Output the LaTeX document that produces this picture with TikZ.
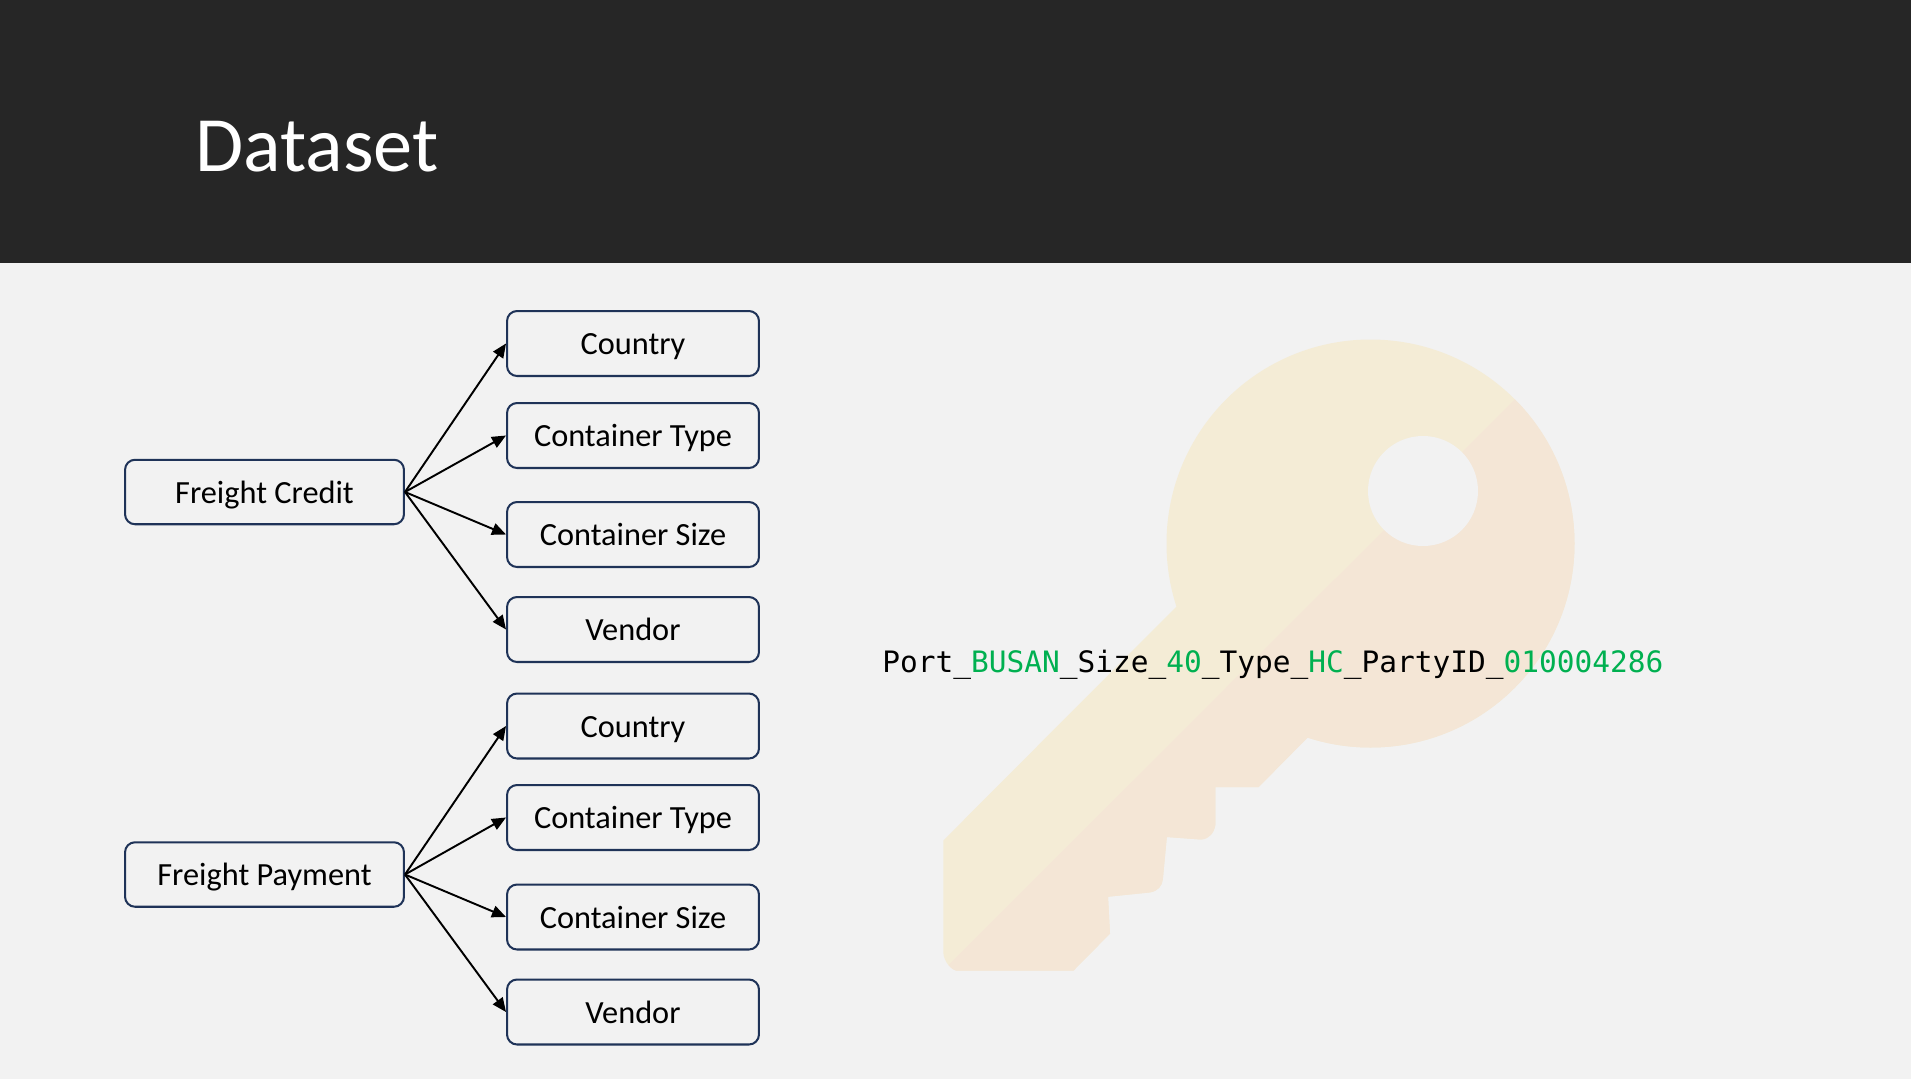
\documentclass[tikz,border=0pt]{standalone}
\usepackage{fontspec}
\setmainfont{Carlito}
\newfontfamily\monofam{DejaVu Sans Mono}
\usetikzlibrary{arrows.meta}
\definecolor{bgcol}{HTML}{F2F2F2}
\definecolor{headcol}{HTML}{262626}
\definecolor{navy}{HTML}{1F3358}
\definecolor{keya}{HTML}{F4ECD6}
\definecolor{keyb}{HTML}{F4E6D6}
\definecolor{greentxt}{HTML}{00B050}
\tikzset{
 boxnode/.style={draw=navy,line width=1.15pt,rounded corners=0.2cm,fill=bgcol,inner sep=0pt,font=\fontsize{18.4}{22}\selectfont,text=black,anchor=center,text height=0.55cm,text depth=0.1cm},
 srcnode/.style={boxnode,minimum width=5.58cm,minimum height=1.29cm},
 dstnode/.style={boxnode,minimum width=5.04cm,minimum height=1.30cm},
 conn/.style={draw=black,line width=1.1pt,-{Triangle[length=8pt,width=6.8pt]}}
}
\def\keyshape{
 (1177,606) -- (943.4,840.4) -- (943.4,953) .. controls (943.4,958) and (948,968) .. (956,970.5) -- (1073.5,970.5) -- (1110,933.6)
 -- (1108,896.7) -- (1150,892.4) .. controls (1158,891) and (1162,886) .. (1162.8,879.4)
 -- (1166.8,837) -- (1201,839.5) .. controls (1209,839) and (1214,833) .. (1215.3,825)
 -- (1215.3,787) -- (1258.7,787) -- (1308,737) -- cycle
}
\begin{document}
\begin{tikzpicture}[x=0.02cm,y=-0.02cm]
\useasboundingbox (0,0) rectangle (1911,1079);
\fill[bgcol] (0,0) rectangle (1911,1079);
\fill[headcol] (0,0) rectangle (1911,263);
\node[anchor=base west,inner sep=0pt,text=white,font=\fontsize{44.6}{52}\selectfont] (title) at (195,171) {Dataset};
% key
\fill[keya] \keyshape;
\fill[keya] (1370.5,543.5) circle (204);
\begin{scope}
\clip (1514.8,399.4) -- (1700,399.4) -- (1700,1100) -- (948.5,1100) -- (948.5,965) -- cycle;
\fill[keyb] \keyshape;
\fill[keyb] (1370.5,543.5) circle (204);
\end{scope}
\fill[bgcol] (1423,491) circle (55);
% text
\node[anchor=base west,inner sep=0pt,font=\monofam\fontsize{16.78}{20}\selectfont] (code) at (882,672)
 {Port\_\textcolor{greentxt}{BUSAN}\_Size\_\textcolor{greentxt}{40}\_Type\_\textcolor{greentxt}{HC}\_PartyID\_\textcolor{greentxt}{010004286}};
% upper group
\node[srcnode] (fc) at (264.5,492) {Freight Credit};
\node[dstnode] (c1) at (633,343.5) {Country};
\node[dstnode] (t1) at (633,435.5) {Container Type};
\node[dstnode] (s1) at (633,534.5) {Container Size};
\node[dstnode] (v1) at (633,629.5) {Vendor};
% lower group
\node[srcnode] (fp) at (264.5,874.5) {Freight Payment};
\node[dstnode] (c2) at (633,726) {Country};
\node[dstnode] (t2) at (633,817.5) {Container Type};
\node[dstnode] (s2) at (633,917) {Container Size};
\node[dstnode] (v2) at (633,1012) {Vendor};
\foreach \s/\d in {fc/c1,fc/t1,fc/s1,fc/v1,fp/c2,fp/t2,fp/s2,fp/v2}
  \draw[conn] (\s.east) -- (\d.west);
\end{tikzpicture}
\end{document}
